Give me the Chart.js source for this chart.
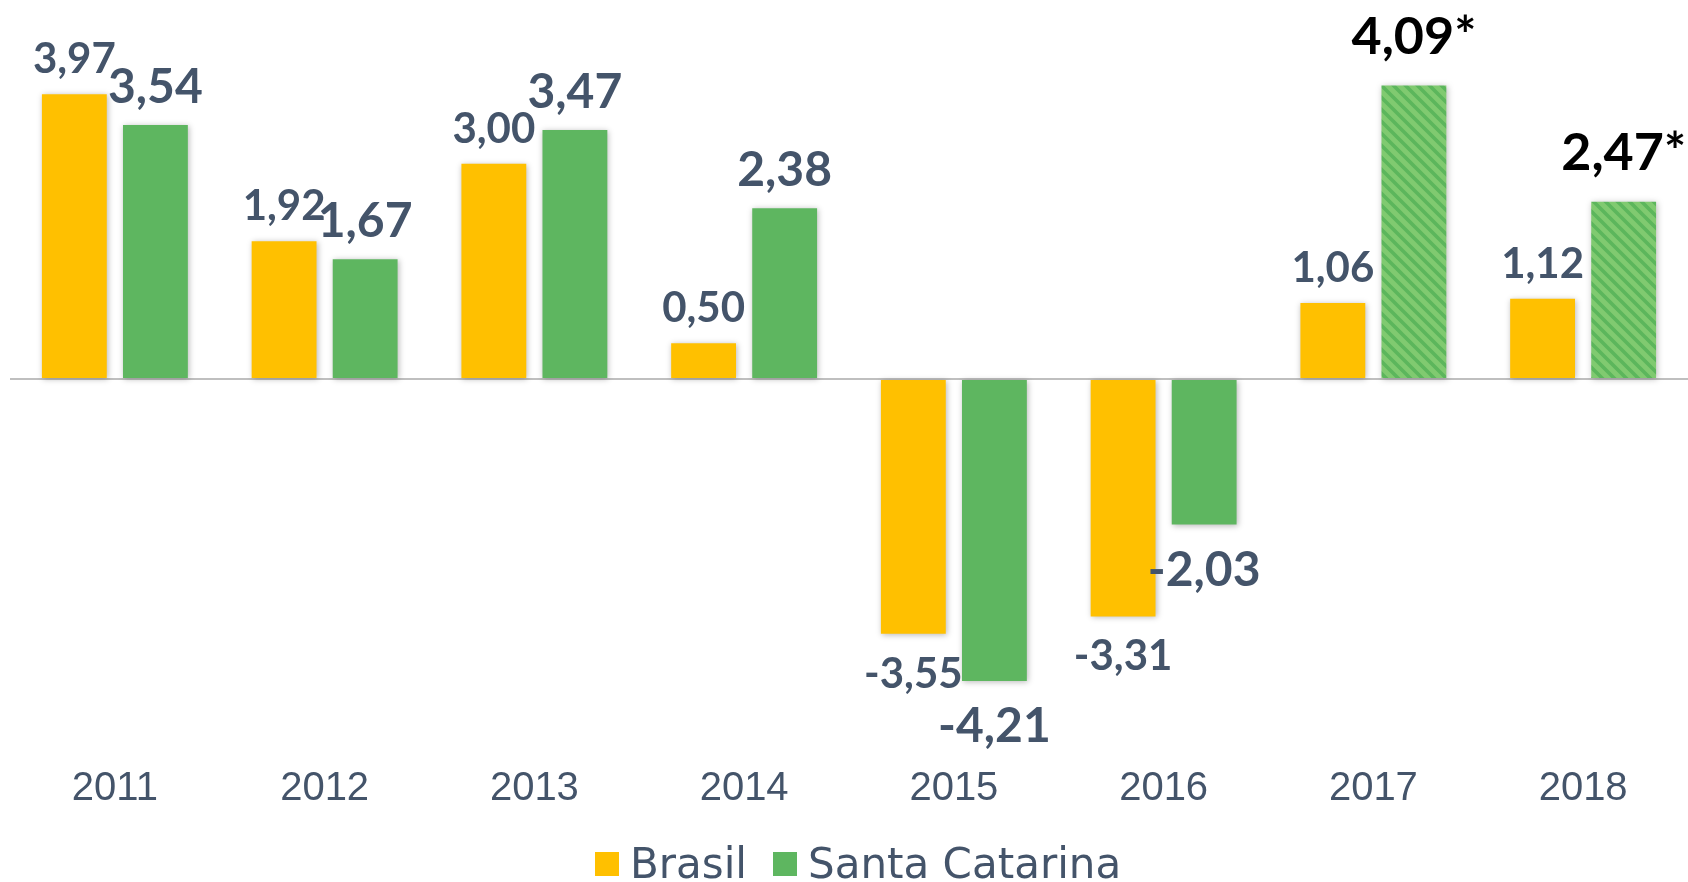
<!DOCTYPE html>
<html>
<head>
<meta charset="utf-8">
<script src="https://cdn.jsdelivr.net/npm/chart.js@4.4.1/dist/chart.umd.min.js"></script>
<style>
  html, body { margin: 0; padding: 0; background: #fff; }
  #wrap { position: relative; width: 1688px; height: 882px; }
  #legend { position: absolute; left: 595px; top: 839px; display: flex; align-items: center;
            font-family: "DejaVu Sans", Verdana, sans-serif; font-size: 42px; color: #44546A; }
  #legend span.box { display: inline-block; width: 24px; height: 24px; margin-right: 11px; }
  #legend span.item { display: flex; align-items: center; margin-right: 26px; }
</style>
</head>
<body>
<div id="wrap">
  <canvas id="chart" width="1688" height="882"></canvas>
  <div id="legend"></div>
</div>
<script>
// anos e taxas de crescimento (%)
var anos = ['2011', '2012', '2013', '2014', '2015', '2016', '2017', '2018'];
var brasil = [3.97, 1.92, 3.00, 0.50, -3.55, -3.31, 1.06, 1.12];
var santaCatarina = [3.54, 1.67, 3.47, 2.38, -4.21, -2.03, 4.09, 2.47];
// valores estimados (com *)
var scEstimado = [false, false, false, false, false, false, true, true];

var nomes = ['Brasil', 'Santa Catarina'];
var corBrasil = '#FFC000';
var corSC = '#5EB660';
var corTexto = '#44546A';

// padrao listrado para os estimados
function hachura() {
    var s = 12;
    var c = document.createElement('canvas');
    c.width = s; c.height = s;
    var g = c.getContext('2d');
    g.fillStyle = '#80CA70';
    g.fillRect(0, 0, s, s);
    g.strokeStyle = '#5CB65C';
    g.lineWidth = 3.6;
    g.beginPath();
    g.moveTo(-2, -2); g.lineTo(s + 2, s + 2);
    g.moveTo(-s - 2, -2); g.lineTo(2, s + 2);
    g.moveTo(s - 2, -2); g.lineTo(2 * s + 2, s + 2);
    g.stroke();
    return g.createPattern(c, 'repeat');
}
var padrao = hachura();
var coresSC = scEstimado.map(function (e) { return e ? padrao : corSC; });

function fmt(v) {
    return v.toFixed(2).replace('.', ',');
}

var sombra = {
    id: 'sombra',
    beforeDatasetsDraw: function (chart) {
        var ctx = chart.ctx;
        ctx.save();
        ctx.shadowColor = 'rgba(0,0,0,0.28)';
        ctx.shadowBlur = 6;
        ctx.shadowOffsetX = 1;
        ctx.shadowOffsetY = 1;
    },
    afterDatasetsDraw: function (chart) {
        chart.ctx.restore();
    }
};

var rotulos = {
    id: 'rotulos',
    afterDraw: function (chart) {
        var ctx = chart.ctx;
        ctx.save();
        ctx.textAlign = 'center';
        ctx.textBaseline = 'alphabetic';
        chart.data.datasets.forEach(function (ds, i) {
            var meta = chart.getDatasetMeta(i);
            meta.data.forEach(function (bar, j) {
                var v = ds.data[j];
                var txt = fmt(v);
                var size, y, cor = corTexto;
                if (i === 0) {
                    size = 42;
                    ctx.font = 'bold ' + size + 'px Lato, sans-serif';
                    y = v >= 0 ? bar.y - 21 : bar.y + 54;
                } else if (scEstimado[j]) {
                    size = 52;
                    ctx.font = 'bold ' + size + 'px Lato, sans-serif';
                    txt += '*';
                    cor = '#000';
                    y = bar.y - 32;
                } else {
                    size = 48;
                    ctx.font = 'bold ' + size + 'px Lato, sans-serif';
                    y = v >= 0 ? bar.y - 22 : bar.y + 61;
                }
                ctx.fillStyle = cor;
                ctx.fillText(txt, bar.x, y);
            });
        });
        ctx.restore();
    }
};

var ctx = document.getElementById('chart').getContext('2d');
var grafico = new Chart(ctx, {
    type: 'bar',
    data: {
        labels: anos,
        datasets: [
            { label: nomes[0], data: brasil, backgroundColor: corBrasil },
            { label: nomes[1], data: santaCatarina, backgroundColor: coresSC }
        ]
    },
    options: {
        responsive: false,
        animation: false,
        categoryPercentage: 0.773,
        barPercentage: 0.8,
        layout: { padding: { left: 10, right: 0, top: 6, bottom: 64 } },
        plugins: {
            legend: { display: false },
            tooltip: { enabled: false }
        },
        scales: {
            x: {
                grid: { display: false },
                border: { display: false },
                ticks: {
                    padding: 5,
                    color: corTexto,
                    font: { family: '"Liberation Sans", Arial, sans-serif', size: 40 }
                }
            },
            y: {
                min: -5.2,
                max: 5.2,
                border: { display: false },
                ticks: { display: false, stepSize: 1 },
                grid: {
                    drawTicks: false,
                    lineWidth: 2,
                    color: function (c) { return c.tick && c.tick.value === 0 ? '#BFBFBF' : 'rgba(0,0,0,0)'; }
                }
            }
        }
    },
    plugins: [sombra, rotulos]
});

// legenda
var leg = document.getElementById('legend');
[corBrasil, corSC].forEach(function (c, i) {
    var it = document.createElement('span');
    it.className = 'item';
    var b = document.createElement('span');
    b.className = 'box';
    b.style.background = c;
    it.appendChild(b);
    it.appendChild(document.createTextNode(nomes[i]));
    leg.appendChild(it);
});
</script>
</body>
</html>
